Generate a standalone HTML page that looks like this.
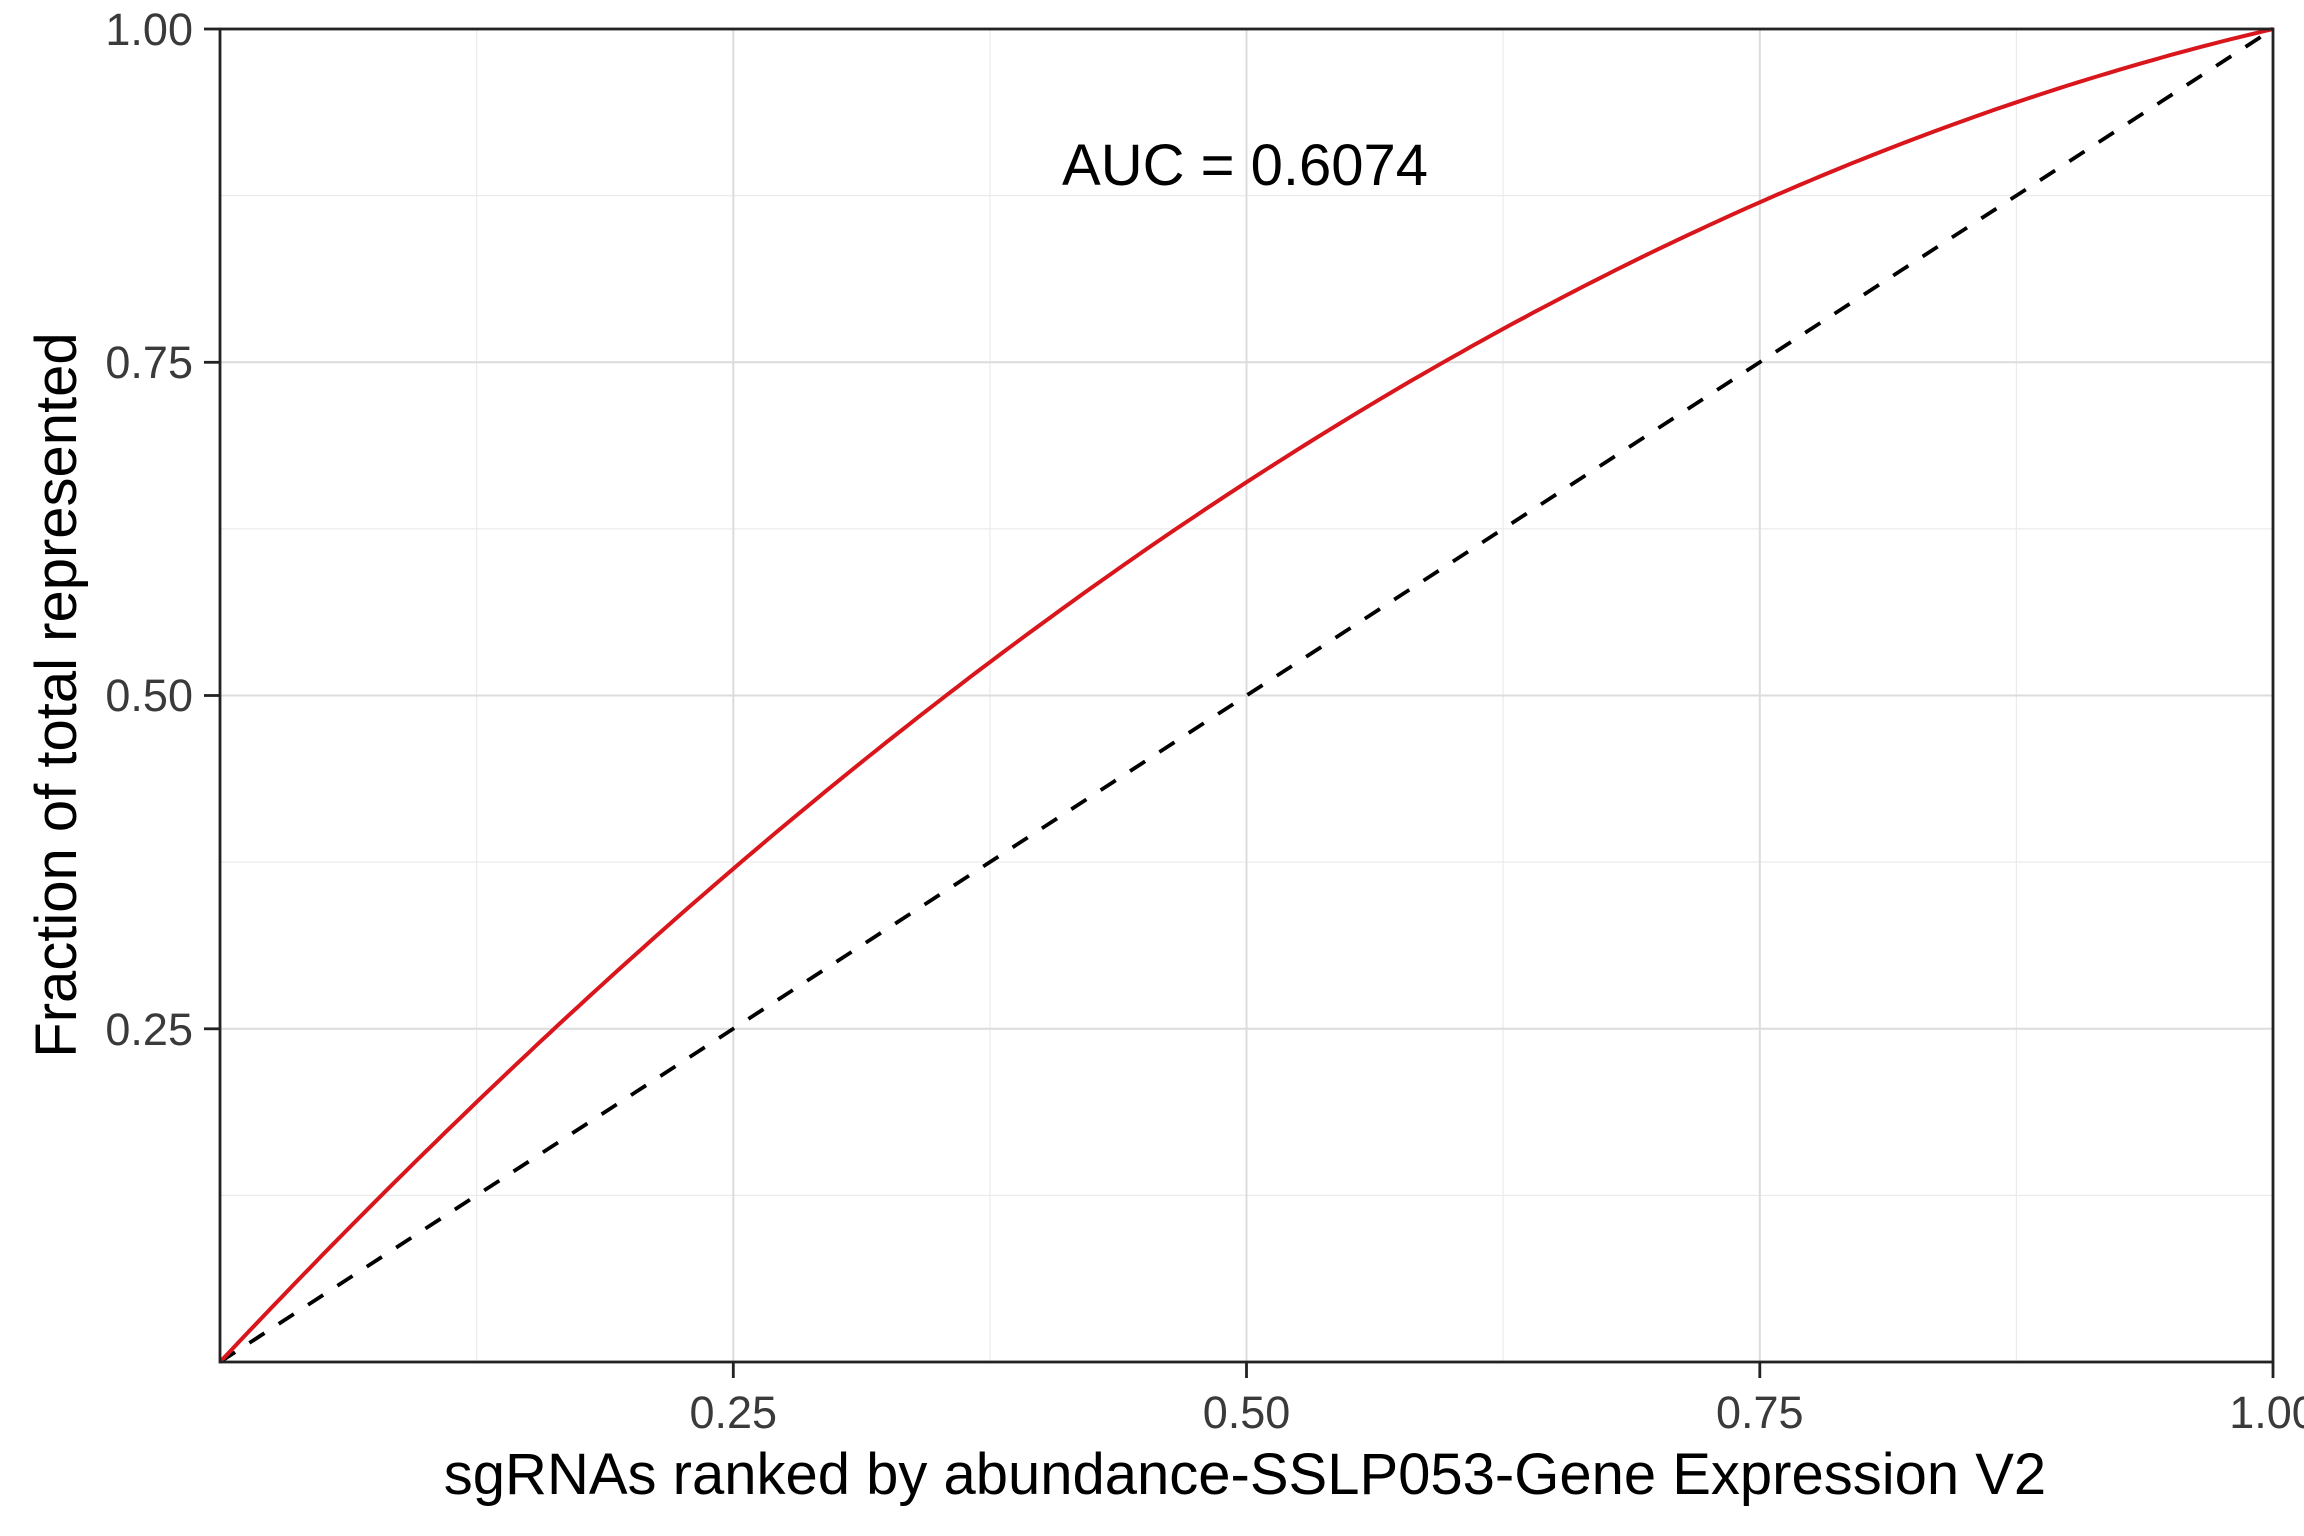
<!DOCTYPE html>
<html><head><meta charset="utf-8"><style>
html,body{margin:0;padding:0;background:#fff;}
svg{display:block;font-family:"Liberation Sans",Arial,sans-serif;}
</style></head><body>
<svg width="2304" height="1536" viewBox="0 0 2304 1536" xmlns="http://www.w3.org/2000/svg">
<rect width="2304" height="1536" fill="#fff"/>
<g stroke="#ebebeb" stroke-width="1.2">
<line x1="476.6" y1="29" x2="476.6" y2="1362"/><line x1="989.9" y1="29" x2="989.9" y2="1362"/>
<line x1="1503.1" y1="29" x2="1503.1" y2="1362"/><line x1="2016.4" y1="29" x2="2016.4" y2="1362"/>
<line x1="220" y1="195.6" x2="2273" y2="195.6"/><line x1="220" y1="528.9" x2="2273" y2="528.9"/>
<line x1="220" y1="862.1" x2="2273" y2="862.1"/><line x1="220" y1="1195.4" x2="2273" y2="1195.4"/>
</g>
<g stroke="#dcdcdc" stroke-width="2">
<line x1="733.3" y1="29" x2="733.3" y2="1362"/><line x1="1246.5" y1="29" x2="1246.5" y2="1362"/>
<line x1="1759.8" y1="29" x2="1759.8" y2="1362"/>
<line x1="220" y1="362.3" x2="2273" y2="362.3"/><line x1="220" y1="695.5" x2="2273" y2="695.5"/>
<line x1="220" y1="1028.8" x2="2273" y2="1028.8"/>
</g>
<line x1="220" y1="1362" x2="2273" y2="29" stroke="#000" stroke-width="3.8" stroke-dasharray="18,17"/>
<path id="curve" fill="none" stroke="#d9161b" stroke-width="4" d=""/>
<rect x="220" y="29" width="2053" height="1333" fill="none" stroke="#222" stroke-width="2.8"/>
<g stroke="#222" stroke-width="2.8">
<line x1="204" y1="29" x2="220" y2="29"/><line x1="204" y1="362.3" x2="220" y2="362.3"/>
<line x1="204" y1="695.5" x2="220" y2="695.5"/><line x1="204" y1="1028.8" x2="220" y2="1028.8"/>
<line x1="733.3" y1="1362" x2="733.3" y2="1378"/><line x1="1246.5" y1="1362" x2="1246.5" y2="1378"/>
<line x1="1759.8" y1="1362" x2="1759.8" y2="1378"/><line x1="2273" y1="1362" x2="2273" y2="1378"/>
</g>
<g fill="#3a3a3a" font-size="45" text-anchor="end">
<text x="193" y="45">1.00</text><text x="193" y="378">0.75</text>
<text x="193" y="711">0.50</text><text x="193" y="1045">0.25</text>
</g>
<g fill="#3a3a3a" font-size="45" text-anchor="middle">
<text x="733.3" y="1428">0.25</text><text x="1246.5" y="1428">0.50</text>
<text x="1759.8" y="1428">0.75</text><text x="2273" y="1428">1.00</text>
</g>
<text x="1245" y="1494" font-size="58" text-anchor="middle" fill="#000">sgRNAs ranked by abundance-SSLP053-Gene Expression V2</text>
<text transform="translate(76,695) rotate(-90)" font-size="58" text-anchor="middle" fill="#000">Fraction of total represented</text>
<text x="1245" y="185" font-size="58" text-anchor="middle" fill="#000">AUC = 0.6074</text>
</svg>
<script>
var d="";for(var i=0;i<=200;i++){var x=i/200,y=x+0.64*x*(1-x);d+=(i?"L":"M")+(220+x*2053).toFixed(1)+","+(1362-y*1333).toFixed(1);}
document.getElementById("curve").setAttribute("d",d);
</script>
</body></html>
